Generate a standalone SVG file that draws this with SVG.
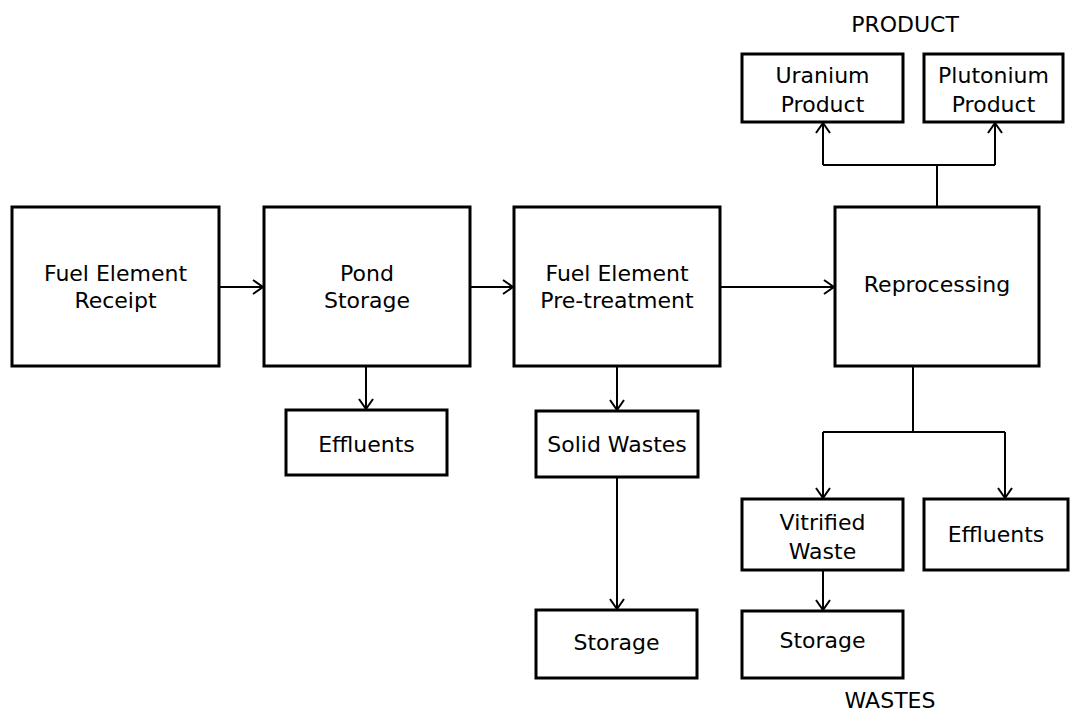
<svg xmlns="http://www.w3.org/2000/svg" width="1078" height="713" viewBox="0 0 1078 713">
<style>
.box{fill:#fff;stroke:#000;stroke-width:3}
.t{font-family:"DejaVu Sans",sans-serif;font-size:22px;fill:#000;text-anchor:middle}
.c{fill:none;stroke:#000;stroke-width:2}
</style>
<defs>
<marker id="ah" viewBox="0 0 12 16" refX="11" refY="8" markerWidth="12" markerHeight="16" markerUnits="userSpaceOnUse" orient="auto">
<path d="M1,1 L11,8 L1,15" fill="none" stroke="#000" stroke-width="2"/>
</marker>
</defs>
<rect width="1078" height="713" fill="#fff"/>
<g id="connectors">
<path class="c" d="M219,287 H263" marker-end="url(#ah)"/>
<path class="c" d="M470,287 H513" marker-end="url(#ah)"/>
<path class="c" d="M720,287 H834" marker-end="url(#ah)"/>
<path class="c" d="M366,366 V409" marker-end="url(#ah)"/>
<path class="c" d="M617,366 V410" marker-end="url(#ah)"/>
<path class="c" d="M617,477 V609" marker-end="url(#ah)"/>
<path class="c" d="M937,207 V165"/>
<path class="c" d="M823,165 H995"/>
<path class="c" d="M823,165 V123" marker-end="url(#ah)"/>
<path class="c" d="M995,165 V123" marker-end="url(#ah)"/>
<path class="c" d="M913,366 V432"/>
<path class="c" d="M823,432 H1005"/>
<path class="c" d="M823,432 V498" marker-end="url(#ah)"/>
<path class="c" d="M1005,432 V498" marker-end="url(#ah)"/>
<path class="c" d="M823,570 V610" marker-end="url(#ah)"/>
</g>
<g id="n-receipt"><rect class="box" x="12" y="207" width="207" height="159"/><text class="t" x="115.5" y="281">Fuel Element</text><text class="t" x="115.5" y="308">Receipt</text></g>
<g id="n-pond"><rect class="box" x="264" y="207" width="206" height="159"/><text class="t" x="367" y="281">Pond</text><text class="t" x="367" y="308">Storage</text></g>
<g id="n-pretreat"><rect class="box" x="514" y="207" width="206" height="159"/><text class="t" x="617" y="281">Fuel Element</text><text class="t" x="617" y="308">Pre-treatment</text></g>
<g id="n-reproc"><rect class="box" x="835" y="207" width="204" height="159"/><text class="t" x="937" y="292">Reprocessing</text></g>
<g id="n-uranium"><rect class="box" x="742" y="54" width="161" height="68"/><text class="t" x="822.5" y="83">Uranium</text><text class="t" x="822.5" y="112">Product</text></g>
<g id="n-plutonium"><rect class="box" x="924" y="54" width="139" height="68"/><text class="t" x="993.5" y="83">Plutonium</text><text class="t" x="993.5" y="112">Product</text></g>
<g id="n-effl1"><rect class="box" x="286" y="410" width="161" height="65"/><text class="t" x="366.5" y="452">Effluents</text></g>
<g id="n-solid"><rect class="box" x="536" y="411" width="162" height="66"/><text class="t" x="617" y="452">Solid Wastes</text></g>
<g id="n-storage1"><rect class="box" x="536" y="610" width="161" height="68"/><text class="t" x="616.5" y="650">Storage</text></g>
<g id="n-vitrified"><rect class="box" x="742" y="499" width="161" height="71"/><text class="t" x="822.5" y="530">Vitrified</text><text class="t" x="822.5" y="559">Waste</text></g>
<g id="n-effl2"><rect class="box" x="924" y="499" width="144" height="71"/><text class="t" x="996" y="542">Effluents</text></g>
<g id="n-storage2"><rect class="box" x="742" y="611" width="161" height="67"/><text class="t" x="822.5" y="648">Storage</text></g>
<g id="labels"><text class="t" x="905" y="32">PRODUCT</text><text class="t" x="890" y="708">WASTES</text></g>
</svg>
